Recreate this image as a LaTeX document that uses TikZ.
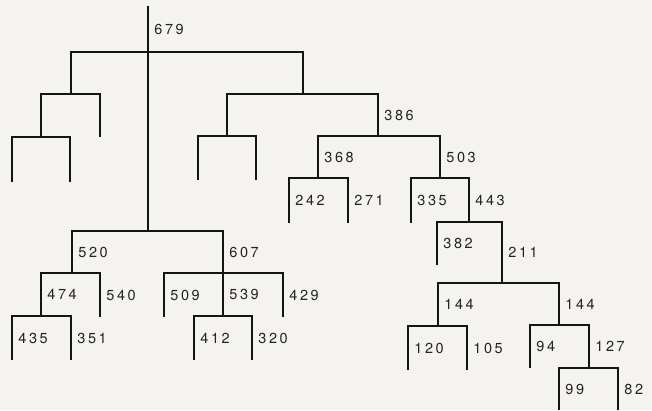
\documentclass[tikz,border=0pt]{standalone}
\usepackage{fontspec}
\usepackage{xcolor}
\usepackage{tikz}
\usetikzlibrary{positioning, calc}
\newfontfamily\lblfont{TeX Gyre Heros}[LetterSpace=18]
\definecolor{paper}{RGB}{245,243,240}
\definecolor{ink}{RGB}{20,20,20}
\definecolor{numgray}{RGB}{35,35,35}
\tikzset{
  branch/.style={draw=ink, line width=2.8pt, line join=miter},
  count/.style={anchor=west, inner sep=0pt, xshift=5pt, text=numgray,
    font=\lblfont\fontsize{14.5}{16}\selectfont}
}

\begin{document}
\begin{tikzpicture}[x=1pt,y=-1pt]
  \fill[paper] (0,0) rectangle (652,410);
  \useasboundingbox (0,0) rectangle (652,410);

  % split points (on each bar) and leaf ends
  \coordinate (rt) at (148,6);
  \coordinate (r) at (148,52);
  % top left, no counts
  \coordinate (a) at (71,94);
  \coordinate (a1) at (41,137);
  \coordinate (a2) at (100,137);
  \coordinate (a11) at (12,182);
  \coordinate (a12) at (70,182);
  % top right
  \coordinate (b) at (303,94);
  \coordinate (b1) at (227,136);
  \coordinate (b2) at (378,136);
  \coordinate (b11) at (198,180);
  \coordinate (b12) at (256,180);
  \coordinate (c) at (318,178);
  \coordinate (c1) at (289,223);
  \coordinate (c2) at (348,223);
  \coordinate (d) at (440,178);
  \coordinate (d1) at (411,223);
  \coordinate (e) at (469,222);
  \coordinate (e1) at (437,265);
  \coordinate (f) at (502,283);
  \coordinate (g) at (438,326);
  \coordinate (g1) at (408,370);
  \coordinate (g2) at (467,370);
  \coordinate (h) at (559,325);
  \coordinate (h1) at (530,368);
  \coordinate (i) at (589,368);
  \coordinate (i1) at (559,410);
  \coordinate (i2) at (618,410);
  % lower part of the trunk
  \coordinate (m) at (148,231);
  \coordinate (j) at (72,273);
  \coordinate (j2) at (100,317);
  \coordinate (l) at (41,316);
  \coordinate (l1) at (12,360);
  \coordinate (l2) at (71,360);
  \coordinate (k) at (223,273);
  \coordinate (k1) at (164,317);
  \coordinate (k3) at (283,317);
  \coordinate (n) at (223,316);
  \coordinate (n1) at (194,360);
  \coordinate (n2) at (252,360);

  % branches: parent/child/count
  \foreach \p/\c/\lbl in {rt/r/679, r/a/, a/a1/, a/a2/, a1/a11/, a1/a12/,
      r/b/, b/b1/, b/b2/386, b1/b11/, b1/b12/,
      b2/c/368, b2/d/503, c/c1/242, c/c2/271, d/d1/335, d/e/443,
      e/e1/382, e/f/211, f/g/144, f/h/144, g/g1/120, g/g2/105,
      h/h1/94, h/i/127, i/i1/99, i/i2/82,
      r/m/, m/j/520, m/k/607, j/l/474, j/j2/540, l/l1/435, l/l2/351,
      k/k1/509, k/n/539, k/k3/429, n/n1/412, n/n2/320}
    \draw[branch] (\p) -| (\c) node[count, pos=0.75] {\lbl};
\end{tikzpicture}
\end{document}
